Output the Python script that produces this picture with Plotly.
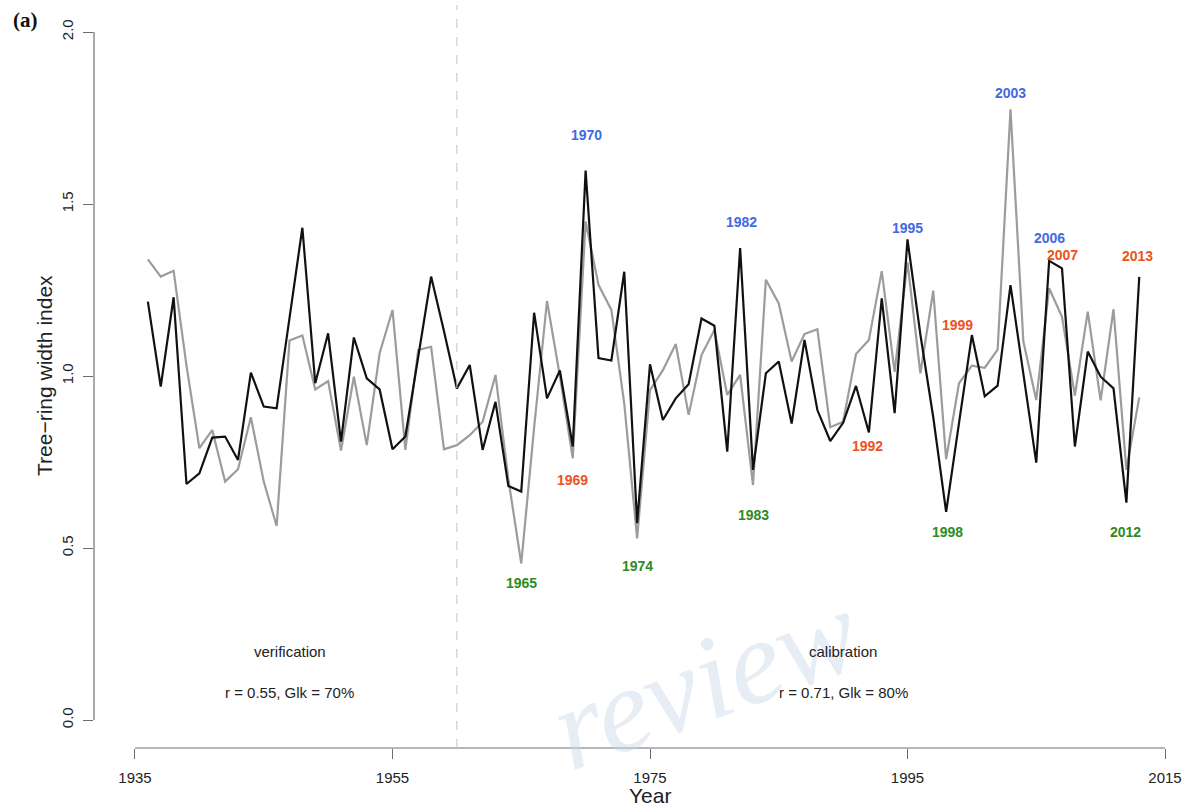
import plotly.graph_objects as go

# ---- data -------------------------------------------------------------
years = list(range(1936, 2014))

# tree-ring width index, reconstructed / modelled series (black)
ring_black = [
    1.216, 0.969, 1.229, 0.686, 0.717, 0.821, 0.824, 0.756, 1.010, 0.911,   # 1936-1945
    0.906, 1.170, 1.431, 0.979, 1.124, 0.809, 1.112, 0.993, 0.961, 0.787,   # 1946-1955
    0.824, 1.056, 1.289, 1.130, 0.964, 1.032, 0.785, 0.925, 0.680, 0.664,   # 1956-1965
    1.184, 0.935, 1.016, 0.795, 1.597, 1.052, 1.045, 1.303, 0.572, 1.034,   # 1966-1975
    0.872, 0.935, 0.976, 1.167, 1.146, 0.780, 1.372, 0.727, 1.008, 1.042,   # 1976-1985
    0.862, 1.105, 0.901, 0.811, 0.864, 0.971, 0.836, 1.226, 0.892, 1.397,   # 1986-1995
    1.120, 0.880, 0.605, 0.863, 1.119, 0.941, 0.972, 1.264, 1.003, 0.748,   # 1996-2005
    1.335, 1.313, 0.795, 1.071, 0.998, 0.964, 0.632, 1.288,                 # 2006-2013
]

# tree-ring width index, observed chronology (grey)
ring_grey = [
    1.339, 1.289, 1.306, 1.030, 0.790, 0.843, 0.693, 0.729, 0.880, 0.693,   # 1936-1945
    0.564, 1.103, 1.118, 0.961, 0.985, 0.783, 0.998, 0.799, 1.066, 1.192,   # 1946-1955
    0.785, 1.076, 1.085, 0.787, 0.799, 0.828, 0.867, 1.003, 0.700, 0.455,   # 1956-1965
    0.850, 1.218, 1.000, 0.761, 1.449, 1.265, 1.192, 0.920, 0.528, 0.959,   # 1966-1975
    1.017, 1.093, 0.887, 1.061, 1.134, 0.945, 1.003, 0.683, 1.280, 1.211,   # 1976-1985
    1.042, 1.122, 1.136, 0.851, 0.867, 1.064, 1.105, 1.305, 1.012, 1.330,   # 1986-1995
    1.008, 1.248, 0.758, 0.979, 1.030, 1.024, 1.077, 1.775, 1.100, 0.930,   # 1996-2005
    1.255, 1.172, 0.943, 1.187, 0.929, 1.194, 0.727, 0.938,                 # 2006-2013
]

assert len(years) == len(ring_black) == len(ring_grey)

# highlighted years: label, position and kind
event_labels = ["1970", "1982", "1995", "2003", "2006",
                "2007", "2013", "1999", "1992", "1969",
                "1983", "1998", "2012", "1965", "1974"]
event_x = [1970.1, 1982.1, 1995.0, 2003.0, 2006.0,
           2007.0, 2012.9, 1998.9, 1991.9, 1969.0,
           1983.0, 1998.1, 2011.9, 1965.0, 1974.0]
event_y = [1.700, 1.449, 1.431, 1.822, 1.400,
           1.352, 1.350, 1.148, 0.797, 0.698,
           0.596, 0.547, 0.547, 0.397, 0.449]
event_kind = ["wet", "wet", "wet", "wet", "wet",
              "hot", "hot", "hot", "hot", "hot",
              "dry", "dry", "dry", "dry", "dry"]

x_ticks = [1935, 1955, 1975, 1995, 2015]
y_ticks = [0.0, 0.5, 1.0, 1.5, 2.0]
y_tick_text = ["0.0", "0.5", "1.0", "1.5", "2.0"]

split_year = 1960
period_names = ["verification", "calibration"]
period_x = [1947.0, 1990.0]
period_stats = ["r = 0.55, Glk = 70%", "r = 0.71, Glk = 80%"]

# ---- styling ----------------------------------------------------------
kind_colour = {"wet": "#4169E1", "hot": "#EC5320", "dry": "#2E8B22"}
SANS = "Liberation Sans, Arial, Helvetica, sans-serif"
AXIS_COL = "#6e6e6e"

fig = go.Figure()

fig.add_trace(go.Scatter(x=years, y=ring_grey, mode="lines",
                         line=dict(color="#9c9c9c", width=2.2),
                         hoverinfo="skip", showlegend=False))
fig.add_trace(go.Scatter(x=years, y=ring_black, mode="lines",
                         line=dict(color="#111111", width=2.2),
                         hoverinfo="skip", showlegend=False))

annotations = []

# faint watermark, drawn first so it sits beneath the other texts
annotations.append(dict(x=0.56, y=0.092, xref="paper", yref="paper",
                        text="<i>review</i>", textangle=-20, showarrow=False,
                        xanchor="center", yanchor="middle",
                        font=dict(family="Liberation Serif, serif", size=120,
                                  color="rgba(200,214,230,0.45)")))

for lab, xv, yv, kind in zip(event_labels, event_x, event_y, event_kind):
    annotations.append(dict(x=xv, y=yv, xref="x", yref="y", text=lab,
                            showarrow=False, xanchor="center", yanchor="middle",
                            font=dict(family=SANS, size=14, color=kind_colour[kind],
                                      weight="bold")))

for name, xv, stat in zip(period_names, period_x, period_stats):
    annotations.append(dict(x=xv, y=0.198, xref="x", yref="y", text=name,
                            showarrow=False, xanchor="center", yanchor="middle",
                            font=dict(family=SANS, size=15, color="#222222")))
    annotations.append(dict(x=xv, y=0.081, xref="x", yref="y", text=stat,
                            showarrow=False, xanchor="center", yanchor="middle",
                            font=dict(family=SANS, size=15, color="#222222")))

# axis titles and panel tag
annotations.append(dict(x=1975, y=-0.0633, xref="x", yref="paper", text="Year",
                        showarrow=False, xanchor="center", yanchor="middle",
                        font=dict(family=SANS, size=21, color="#222222")))
annotations.append(dict(x=-0.0449, y=0.5007, xref="paper", yref="paper",
                        text="Tree\u2212ring width index", textangle=-90,
                        showarrow=False, xanchor="center", yanchor="middle",
                        font=dict(family=SANS, size=21, color="#222222")))
annotations.append(dict(x=-0.0632, y=0.980, xref="paper", yref="paper",
                        text="<b>(a)</b>", showarrow=False,
                        xanchor="center", yanchor="middle",
                        font=dict(family="Liberation Serif, Times New Roman, serif",
                                  size=21, color="#111111")))

shapes = [
    # y axis line spanning the tick range
    dict(type="line", xref="paper", yref="y", x0=0, x1=0, y0=0, y1=2,
         line=dict(color=AXIS_COL, width=1.2)),
    # x axis line spanning the tick range
    dict(type="line", xref="x", yref="paper", x0=1935, x1=2015, y0=0, y1=0,
         line=dict(color=AXIS_COL, width=1.2)),
    # split between verification and calibration periods
    dict(type="line", xref="x", yref="paper", x0=split_year, x1=split_year,
         y0=0, y1=1, line=dict(color="#c4c4c4", width=1, dash="dash")),
]

fig.update_layout(
    width=1195, height=812,
    margin=dict(l=94, r=10, t=5, b=64),
    paper_bgcolor="white", plot_bgcolor="white",
    showlegend=False,
    annotations=annotations,
    shapes=shapes,
    xaxis=dict(range=[1931.816, 2016.553], tickvals=x_ticks,
               ticktext=[str(t) for t in x_ticks],
               ticks="outside", ticklen=10, tickwidth=1.2, tickcolor=AXIS_COL,
               showline=False, showgrid=False, zeroline=False,
               tickfont=dict(family=SANS, size=15, color="#222222"),
               ticklabelstandoff=6),
    yaxis=dict(range=[-0.0814, 2.0785], tickvals=y_ticks, ticktext=y_tick_text,
               ticks="outside", ticklen=10, tickwidth=1.2, tickcolor=AXIS_COL,
               tickangle=-90,
               showline=False, showgrid=False, zeroline=False,
               tickfont=dict(family=SANS, size=15, color="#222222"),
               ticklabelstandoff=4),
)

fig.write_html("out.html")
